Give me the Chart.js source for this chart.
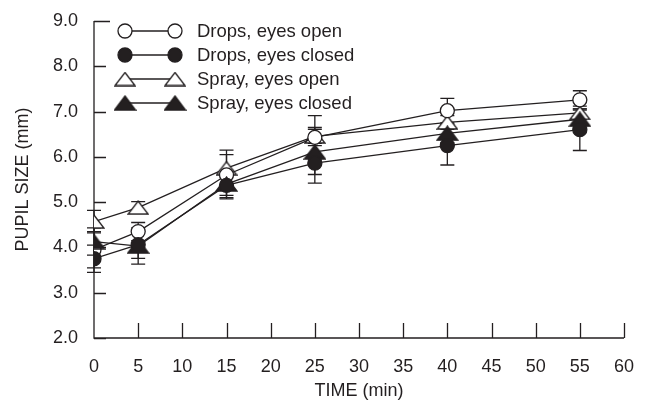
<!DOCTYPE html>
<html>
<head>
<meta charset="utf-8">
<script src="https://cdn.jsdelivr.net/npm/chart.js@4.4.0/dist/chart.umd.min.js"></script>
<style>
  html, body { margin: 0; padding: 0; background: #fff; }
</style>
</head>
<body>
<canvas id="chart" width="647" height="403"></canvas>
<script>
// time points (min)
var timePoints = [0, 5, 15, 25, 40, 55];

// pupil size (mm)
var dropsOpen = [3.95, 4.35, 5.6, 6.43, 7.02, 7.26];
var dropsClosed = [3.75, 4.06, 5.37, 5.86, 6.25, 6.6];
var sprayOpen = [4.57, 4.88, 5.75, 6.45, 6.76, 6.97];
var sprayClosed = [4.13, 4.03, 5.4, 6.11, 6.52, 6.83];

// error bar half-widths (mm)
var dropsOpenErr = [0.4, 0.2, 0.45, 0.48, 0.27, 0.2];
var dropsClosedErr = [0.3, 0.3, 0.3, 0.44, 0.43, 0.46];
var sprayOpenErr = [0.25, 0.13, 0.4, 0.2, 0.15, 0.15];
var sprayClosedErr = [0.3, 0.4, 0.3, 0.5, 0.2, 0.2];

var seriesLabels = ["Drops, eyes open", "Drops, eyes closed", "Spray, eyes open", "Spray, eyes closed"];

var ink = "#231f20";

Chart.defaults.font.family = "'Liberation Sans', Arial, sans-serif";
Chart.defaults.font.size = 18;
Chart.defaults.color = ink;

// triangle markers (a bit flatter than Chart.js' own)
function makeTriangle(filled, w, h) {
  var c = document.createElement("canvas");
  c.width = w + 2;
  c.height = h + 2;
  var g = c.getContext("2d");
  g.beginPath();
  g.moveTo(c.width / 2, 1);
  g.lineTo(w + 1, h + 1);
  g.lineTo(1, h + 1);
  g.closePath();
  g.fillStyle = filled ? ink : "#fff";
  g.fill();
  g.lineWidth = 1.3;
  g.strokeStyle = ink;
  g.stroke();
  return c;
}
var openTri = makeTriangle(false, 20, 13);
var filledTri = makeTriangle(true, 21, 14);

function toPoints(values) {
  return values.map(function (v, i) { return { x: timePoints[i], y: v }; });
}

function makeDataset(label, values, errs, style, fill, order) {
  return {
    label: label,
    data: toPoints(values),
    errors: errs,
    borderColor: ink,
    borderWidth: 1.3,
    pointStyle: style,
    pointRadius: 7,
    pointHoverRadius: 7,
    pointBorderWidth: 1.3,
    pointBorderColor: ink,
    pointBackgroundColor: fill,
    fill: false,
    tension: 0,
    order: order
  };
}

var datasets = [
  makeDataset(seriesLabels[0], dropsOpen, dropsOpenErr, "circle", "#fff", 2),
  makeDataset(seriesLabels[1], dropsClosed, dropsClosedErr, "circle", ink, 0),
  makeDataset(seriesLabels[2], sprayOpen, sprayOpenErr, openTri, "#fff", 3),
  makeDataset(seriesLabels[3], sprayClosed, sprayClosedErr, filledTri, ink, 1)
];

// axes with inward ticks + error bars, drawn under the lines
var axesAndErrors = {
  id: "axesAndErrors",
  beforeDatasetsDraw: function (chart) {
    var ctx = chart.ctx;
    var xs = chart.scales.x;
    var ys = chart.scales.y;
    var a = chart.chartArea;
    ctx.save();
    ctx.strokeStyle = ink;
    ctx.lineWidth = 1.3;
    ctx.beginPath();
    ctx.moveTo(a.left, a.top);
    ctx.lineTo(a.left, a.bottom);
    ctx.lineTo(a.right, a.bottom);
    ys.ticks.forEach(function (t) {
      var y = Math.round(ys.getPixelForValue(t.value)) + 0.5;
      ctx.moveTo(a.left, y);
      ctx.lineTo(a.left + (t.value === 9 ? 16 : 12), y);
    });
    xs.ticks.forEach(function (t) {
      if (t.value === 0) return;
      var x = Math.round(xs.getPixelForValue(t.value)) + 0.5;
      ctx.moveTo(x, a.bottom);
      ctx.lineTo(x, a.bottom - 15);
    });
    ctx.stroke();

    // error bars
    chart.data.datasets.forEach(function (ds) {
      ds.data.forEach(function (p, i) {
        var e = ds.errors[i];
        var x = xs.getPixelForValue(p.x);
        var y1 = ys.getPixelForValue(p.y + e);
        var y2 = ys.getPixelForValue(p.y - e);
        ctx.beginPath();
        ctx.moveTo(x, y1);
        ctx.lineTo(x, y2);
        ctx.moveTo(x - 7, y1);
        ctx.lineTo(x + 7, y1);
        ctx.moveTo(x - 7, y2);
        ctx.lineTo(x + 7, y2);
        ctx.stroke();
      });
    });
    ctx.restore();
  }
};

// legend: line with a marker at each end
var legendRows = {
  id: "legendRows",
  afterDraw: function (chart) {
    var ctx = chart.ctx;
    var rowY = [31, 55, 79, 103];
    var x1 = 125, x2 = 175;
    ctx.save();
    chart.data.datasets.forEach(function (ds, i) {
      var y = rowY[i];
      ctx.strokeStyle = ink;
      ctx.lineWidth = 1.3;
      ctx.beginPath();
      ctx.moveTo(x1, y);
      ctx.lineTo(x2, y);
      ctx.stroke();
      [x1, x2].forEach(function (x) {
        if (ds.pointStyle === "circle") {
          ctx.beginPath();
          ctx.arc(x, y, 7, 0, Math.PI * 2);
          ctx.fillStyle = ds.pointBackgroundColor;
          ctx.fill();
          ctx.stroke();
        } else {
          var img = ds.pointStyle;
          ctx.drawImage(img, x - img.width / 2, y - img.height / 2);
        }
      });
      ctx.fillStyle = ink;
      ctx.font = "18.5px 'Liberation Sans', Arial, sans-serif";
      ctx.textAlign = "left";
      ctx.textBaseline = "middle";
      ctx.fillText(ds.label, 197, y + 1);
    });
    ctx.restore();
  }
};

var chart = new Chart(document.getElementById("chart").getContext("2d"), {
  type: "line",
  data: { datasets: datasets },
  plugins: [axesAndErrors, legendRows],
  options: {
    responsive: false,
    animation: false,
    layout: { padding: { left: 0, right: 23, top: 21, bottom: 0 } },
    plugins: {
      legend: { display: false },
      tooltip: { enabled: false }
    },
    scales: {
      x: {
        type: "linear",
        min: 0,
        max: 60,
        grid: { display: false },
        border: { display: false },
        ticks: { stepSize: 5, padding: 10, maxRotation: 0 },
        title: { display: true, text: "TIME (min)", padding: { top: 0, bottom: 1 } },
        afterFit: function (scale) { scale.height = 65; }
      },
      y: {
        type: "linear",
        min: 2,
        max: 9,
        grid: { display: false },
        border: { display: false },
        ticks: {
          stepSize: 0.5,
          padding: 8,
          callback: function (v) { return v % 1 === 0 ? v.toFixed(1) : ""; }
        },
        title: { display: true, text: "PUPIL SIZE (mm)", padding: 12 },
        afterFit: function (scale) { scale.width = 94; }
      }
    }
  }
});
</script>
</body>
</html>
